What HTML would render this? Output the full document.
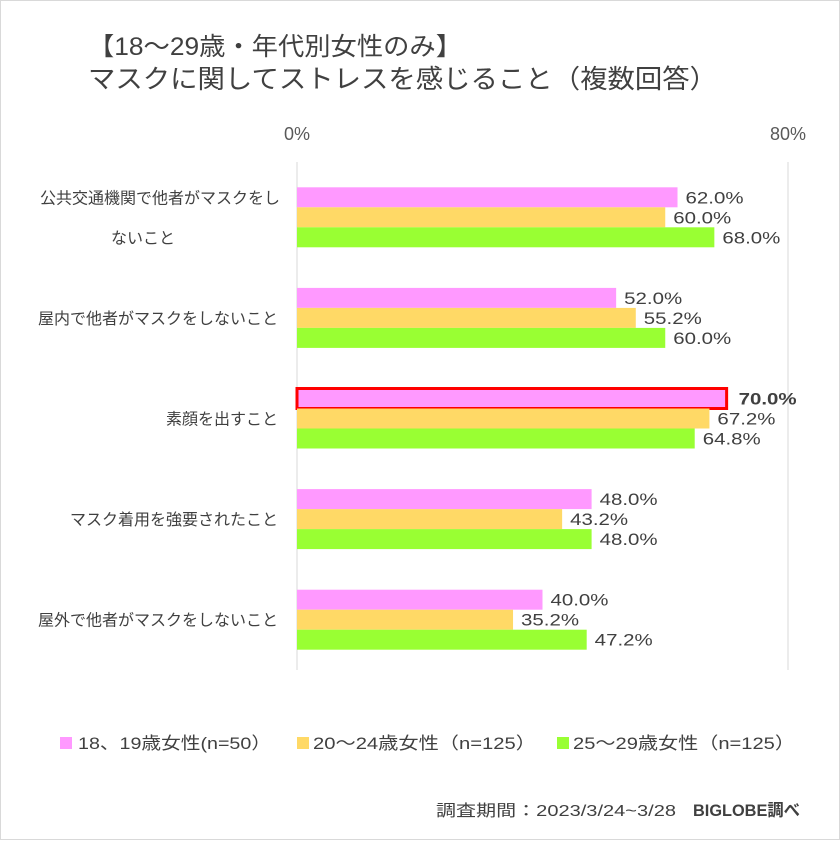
<!DOCTYPE html>
<html><head><meta charset="utf-8"><style>
html,body{margin:0;padding:0;background:#fff}
body{width:840px;height:840px;overflow:hidden;font-family:"Liberation Sans","Noto Sans CJK JP",sans-serif}
</style></head><body>
<svg id="c" width="840" height="840" xmlns="http://www.w3.org/2000/svg" font-family="Liberation Sans, Noto Sans CJK JP, sans-serif">
<rect x="0.5" y="0.5" width="839" height="839" fill="#fff" stroke="#d9d9d9"/>
<text x="88" y="55" font-size="25" fill="#404040" textLength="374" lengthAdjust="spacingAndGlyphs">【18～29歳・年代別女性のみ】</text>
<text x="88" y="88" font-size="26" fill="#404040" textLength="629" lengthAdjust="spacingAndGlyphs">マスクに関してストレスを感じること（複数回答）</text>
<g id="plot"></g>
<g>
<rect x="60" y="737" width="12" height="12" fill="#ff99ff"/>
<text x="78" y="749" font-size="17" fill="#404040" textLength="193" lengthAdjust="spacingAndGlyphs">18、19歳女性(n=50）</text>
<rect x="297" y="737" width="12" height="12" fill="#ffd966"/>
<text x="313" y="749" font-size="17" fill="#404040" textLength="223" lengthAdjust="spacingAndGlyphs">20～24歳女性（n=125）</text>
<rect x="557" y="737" width="12" height="12" fill="#99ff33"/>
<text x="573" y="749" font-size="17" fill="#404040" textLength="222" lengthAdjust="spacingAndGlyphs">25～29歳女性（n=125）</text>
</g>
<text x="436" y="816" font-size="16" fill="#404040" textLength="240" lengthAdjust="spacingAndGlyphs">調査期間：2023/3/24~3/28</text>
<text x="693" y="816" font-size="17" font-weight="bold" fill="#404040" textLength="107" lengthAdjust="spacingAndGlyphs">BIGLOBE調べ</text>
</svg>
<script>
const categories = [["公共交通機関で他者がマスクをし","ないこと"],["屋内で他者がマスクをしないこと"],["素顔を出すこと"],["マスク着用を強要されたこと"],["屋外で他者がマスクをしないこと"]];
const series1 = [62.0, 52.0, 70.0, 48.0, 40.0];
const series2 = [60.0, 55.2, 67.2, 43.2, 35.2];
const series3 = [68.0, 60.0, 64.8, 48.0, 47.2];
const tickValues = [0, 80];
const highlightIndex = 2;

const NS = "http://www.w3.org/2000/svg";
const g = document.getElementById("plot");
const X0 = 297, X1 = 788, Y0 = 167, Y1 = 670;
const xS = v => X0 + (v - 0) / 80 * (X1 - X0);
const band = (Y1 - Y0) / categories.length;
const yC = i => Y0 + band * (i + 0.5);
const BH = 20;
function mk(tag, attrs){const e=document.createElementNS(NS,tag);for(const k in attrs)e.setAttribute(k,attrs[k]);g.appendChild(e);return e;}

tickValues.forEach(t=>{
  const l = mk("line",{x1:xS(t),x2:xS(t),y1:Y0-5,y2:Y1,stroke:"#d9d9d9","stroke-width":1});
  
  
  const tx = mk("text",{x:xS(t),y:140,"font-size":18,fill:"#595959","text-anchor":"middle"});
  tx.textContent = t + "%";
  
  
});

const series = [[series1,"#ff99ff"],[series2,"#ffd966"],[series3,"#99ff33"]];
categories.forEach((cat,i)=>{
  const lines = cat;
  lines.forEach((ln,j)=>{
    const multi = lines.length>1;
    const t = mk("text",{x: multi ? (j===0?40:111) : 278, y: yC(i) + 6 + (multi ? (j===0?-20:20) : 0), "font-size":16, fill:"#404040","text-anchor": multi ? "start":"end"});
    t.textContent = ln;
    
    
  });
  series.forEach(([vals,col],s)=>{
    const y = yC(i) - 1.5*BH + s*BH;
    const hl = (s===0 && i===highlightIndex);
    const r = mk("rect",{x:X0,y:y,width:xS(vals[i])-X0,height:BH,fill:col});
    if(hl){r.setAttribute("stroke","#ff0000");r.setAttribute("stroke-width","3");}
    
    
    const t = mk("text",{x:xS(vals[i]) + (hl?12:8), y:y+BH/2+6, "font-size":17, fill:"#404040", textLength:58, lengthAdjust:"spacingAndGlyphs"});
    if(hl) t.setAttribute("font-weight","bold");
    t.textContent = vals[i].toFixed(1) + "%";
    
    
  });
});
</script>
</body></html>
